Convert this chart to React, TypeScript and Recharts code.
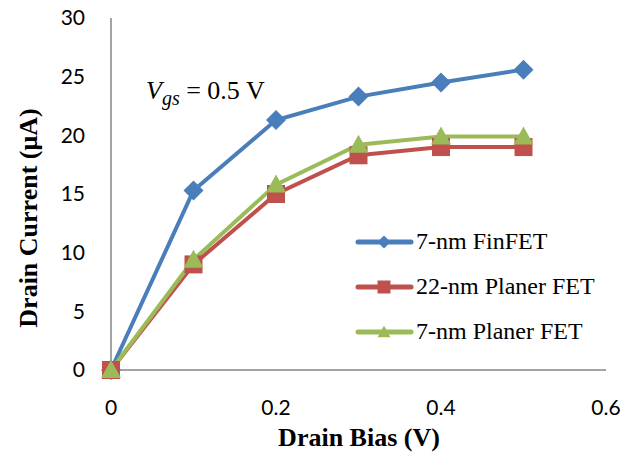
import { LineChart, Line, XAxis, YAxis } from "recharts";

const biasValues = [0, 0.1, 0.2, 0.3, 0.4, 0.5];
const finfet7 = [0, 15.3, 21.3, 23.3, 24.5, 25.6];
const planar22 = [0, 9.0, 15.0, 18.3, 19.0, 19.0];
const planar7 = [0, 9.4, 15.8, 19.2, 19.9, 19.9];
const xTicks = [0, 0.2, 0.4, 0.6];
const yTicks = [0, 5, 10, 15, 20, 25, 30];

const seriesNames = ["7-nm FinFET", "22-nm Planer FET", "7-nm Planer FET"];
const colors = ["#4a7ebb", "#c0504d", "#9bbb59"];

const data = biasValues.map((v, i) => ({
  bias: v,
  fin7: finfet7[i],
  pl22: planar22[i],
  pl7: planar7[i],
}));

const tickFont = { fill: "#000", fontSize: 21, fontFamily: "Lato, 'Open Sans', sans-serif" };
const serif = "'Liberation Serif', 'Times New Roman', serif";

function Diamond({ cx, cy, r = 9, color }: any) {
  return <polygon points={`${cx},${cy - r} ${cx + r},${cy} ${cx},${cy + r} ${cx - r},${cy}`} fill={color} />;
}
function Square({ cx, cy, r = 8, color }: any) {
  return <rect x={cx - r} y={cy - r} width={r * 2} height={r * 2} fill={color} />;
}
function Triangle({ cx, cy, r = 9, color }: any) {
  return <polygon points={`${cx},${cy - r} ${cx + r},${cy + r * 0.8} ${cx - r},${cy + r * 0.8}`} fill={color} />;
}

const markers = [Diamond, Square, Triangle];

function LegendBox() {
  return (
    <div style={{ fontFamily: serif, fontSize: 24 }}>
      {seriesNames.map((name, i) => {
        const M = markers[i];
        return (
          <div key={name} style={{ display: "flex", alignItems: "center", height: 45 }}>
            <svg width={60} height={20}>
              <line x1={3} y1={10} x2={56} y2={10} stroke={colors[i]} strokeWidth={5} strokeLinecap="round" />
              <M cx={29} cy={10} r={6.5} color={colors[i]} />
            </svg>
            <span style={{ marginLeft: 1 }}>{name}</span>
          </div>
        );
      })}
    </div>
  );
}

const yLabel = () => (
  <text
    x={28}
    y={218}
    transform="rotate(-90, 28, 218)"
    textAnchor="middle"
    dominantBaseline="central"
    fontFamily={serif}
    fontWeight="bold"
    fontSize={26}
    fill="#000"
  >
    Drain Current (μA)
  </text>
);

const xLabel = () => (
  <text
    x={359}
    y={437}
    textAnchor="middle"
    dominantBaseline="central"
    fontFamily={serif}
    fontWeight="bold"
    fontSize={26}
    fill="#000"
  >
    Drain Bias (V)
  </text>
);

export default function App() {
  return (
    <div style={{ position: "absolute", left: 0, top: 0, width: 634, height: 452, background: "#fff" }}>
      <LineChart width={634} height={452} data={data} margin={{ top: 18, right: 28, left: 0, bottom: 20 }}>
        <XAxis
          dataKey="bias"
          type="number"
          domain={[0, 0.6]}
          ticks={xTicks}
          tickFormatter={(v) => String(v)}
          axisLine={{ stroke: "#868686", strokeWidth: 1.5 }}
          tickLine={false}
          tickSize={0}
          tickMargin={30}
          tick={tickFont}
          height={62}
          label={xLabel}
        />
        <YAxis
          type="number"
          domain={[0, 30]}
          ticks={yTicks}
          axisLine={{ stroke: "#868686", strokeWidth: 1.5 }}
          tickLine={false}
          tickSize={0}
          tickMargin={26}
          tick={tickFont}
          width={111}
          label={yLabel}
        />
        <Line
          dataKey="fin7"
          name={seriesNames[0]}
          stroke={colors[0]}
          strokeWidth={4}
          isAnimationActive={false}
          dot={(p: any) => <Diamond key={p.index} cx={p.cx} cy={p.cy} r={10} color={colors[0]} />}
        />
        <Line
          dataKey="pl22"
          name={seriesNames[1]}
          stroke={colors[1]}
          strokeWidth={4}
          isAnimationActive={false}
          dot={(p: any) => <Square key={p.index} cx={p.cx} cy={p.cy} r={9} color={colors[1]} />}
        />
        <Line
          dataKey="pl7"
          name={seriesNames[2]}
          stroke={colors[2]}
          strokeWidth={4}
          isAnimationActive={false}
          dot={(p: any) => <Triangle key={p.index} cx={p.cx} cy={p.cy} r={10} color={colors[2]} />}
        />
      </LineChart>
      <div style={{ position: "absolute", left: 355, top: 219 }}>
        <LegendBox />
      </div>
      <div style={{ position: "absolute", left: 146, top: 76, fontFamily: serif, fontSize: 26, whiteSpace: "nowrap" }}>
        <i>V</i>
        <sub style={{ fontStyle: "italic", fontSize: 20 }}>gs</sub> = 0.5 V
      </div>
    </div>
  );
}
